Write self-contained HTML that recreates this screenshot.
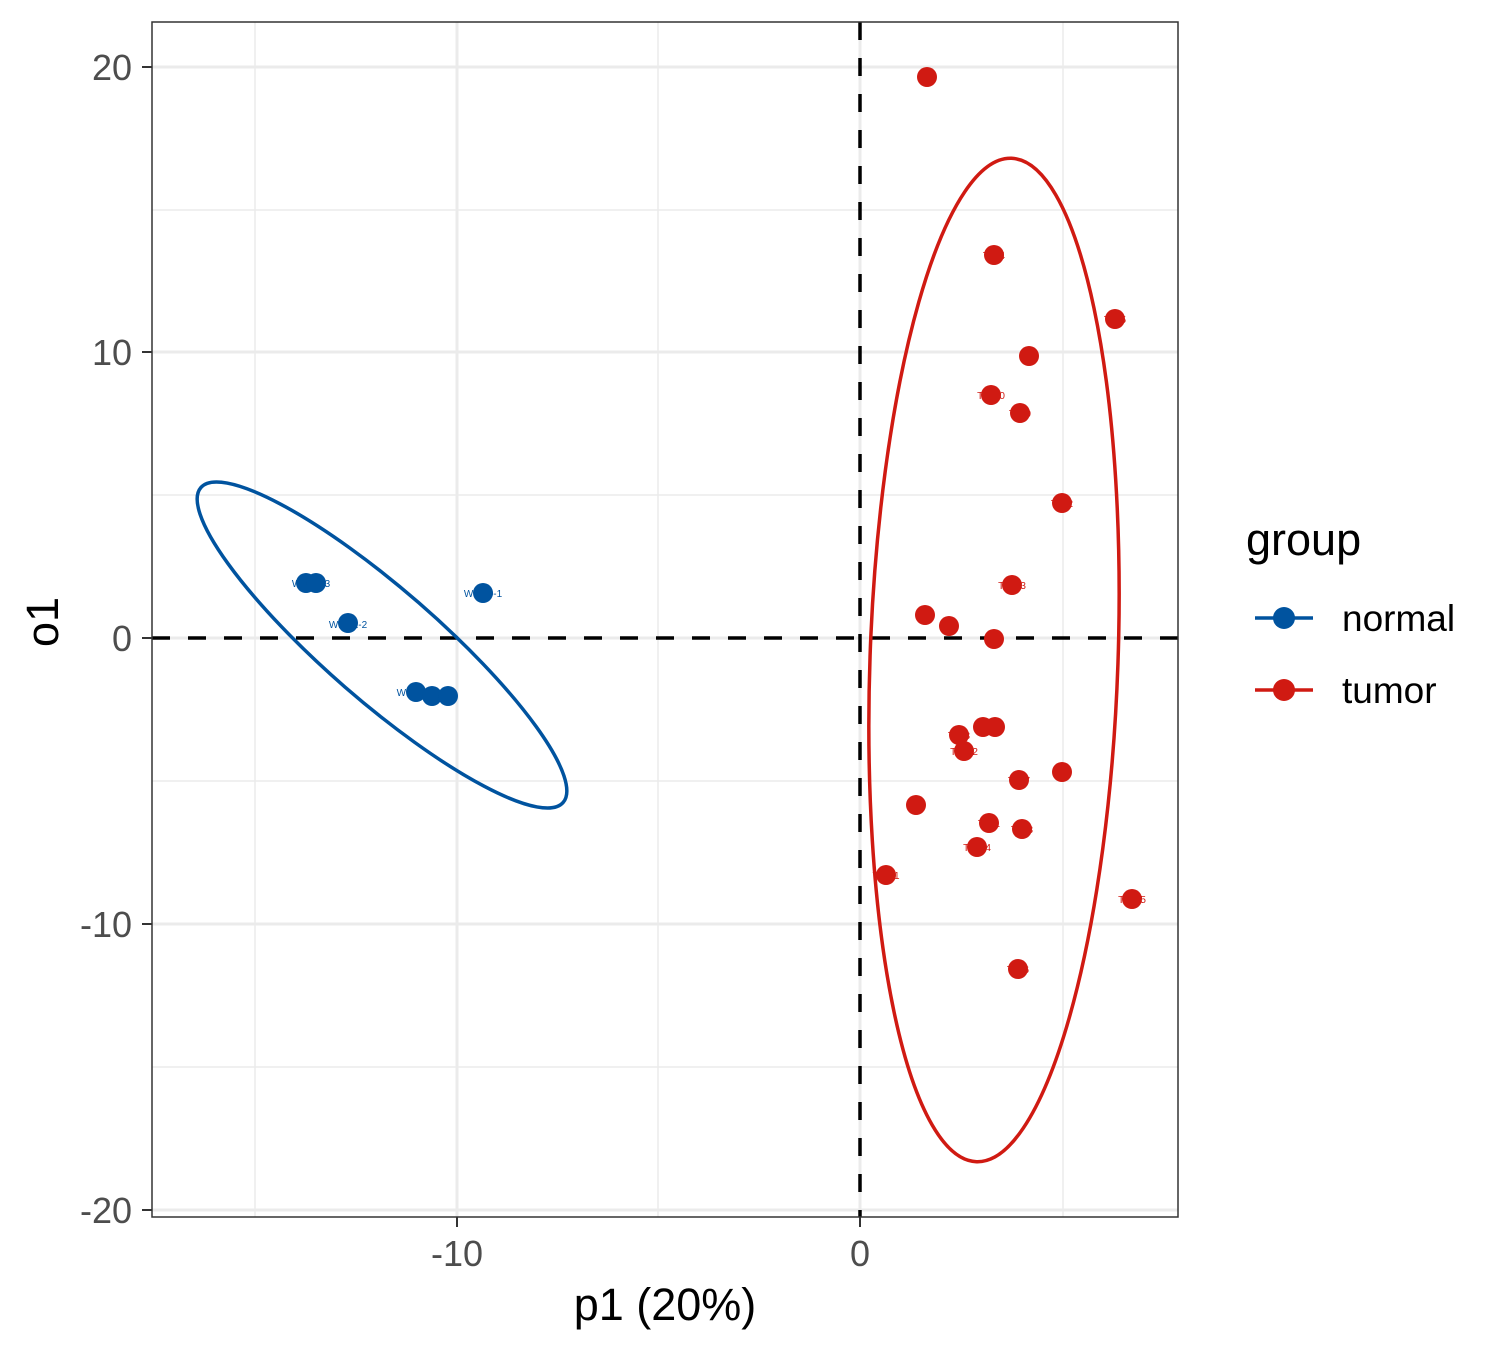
<!DOCTYPE html><html><head><style>body{margin:0;background:#fff}svg{display:block}</style></head><body>
<svg width="1500" height="1350" xmlns="http://www.w3.org/2000/svg" font-family="Liberation Sans, sans-serif">
<rect width="1500" height="1350" fill="#fff"/>
<g stroke="#ebebeb" stroke-width="1.5">
<line x1="255" y1="22" x2="255" y2="1217"/><line x1="658" y1="22" x2="658" y2="1217"/><line x1="1063" y1="22" x2="1063" y2="1217"/>
<line x1="152" y1="210" x2="1178" y2="210"/><line x1="152" y1="495" x2="1178" y2="495"/><line x1="152" y1="781" x2="1178" y2="781"/><line x1="152" y1="1067" x2="1178" y2="1067"/>
</g>
<g stroke="#ebebeb" stroke-width="3">
<line x1="457" y1="22" x2="457" y2="1217"/><line x1="860" y1="22" x2="860" y2="1217"/>
<line x1="152" y1="67" x2="1178" y2="67"/><line x1="152" y1="352" x2="1178" y2="352"/><line x1="152" y1="638" x2="1178" y2="638"/><line x1="152" y1="924" x2="1178" y2="924"/><line x1="152" y1="1210" x2="1178" y2="1210"/>
</g>
<g stroke="#000" stroke-width="3.5" stroke-dasharray="18,18">
<line x1="152" y1="638" x2="1178" y2="638"/><line x1="860" y1="22" x2="860" y2="1217"/>
</g>
<ellipse cx="382" cy="645" rx="240" ry="56" transform="rotate(41 382 645)" fill="none" stroke="#00539f" stroke-width="3.5"/>
<ellipse cx="994" cy="660" rx="124" ry="502" transform="rotate(2 994 660)" fill="none" stroke="#d01a12" stroke-width="3.5"/>
<g fill="#00539f" font-size="10" text-anchor="middle">
<text x="311" y="587">WHN0-3</text><text x="348" y="628">WHN2-2</text><text x="483" y="597">WHN0-1</text><text x="432" y="700">WHN0-4</text><text x="405" y="696">WH</text>
<circle cx="306" cy="583" r="10"/><circle cx="316" cy="583" r="10"/><circle cx="348" cy="623" r="10"/><circle cx="483" cy="593" r="10"/><circle cx="416" cy="692" r="10"/><circle cx="432" cy="696" r="10"/><circle cx="448" cy="696" r="10"/>
</g>
<g fill="#d01a12" font-size="10" text-anchor="middle">
<text x="994" y="259">TN-4</text><text x="1115" y="323">TN-5</text><text x="991" y="399">TN-10</text><text x="1020" y="417">TN-9</text><text x="1062" y="507">TN-2</text><text x="1012" y="589">TN-13</text><text x="959" y="739">TN-8</text><text x="964" y="755">TN-12</text><text x="1019" y="784">TN-7</text><text x="916" y="809">E2</text><text x="989" y="827">TN-1</text><text x="1022" y="833">TN-3</text><text x="977" y="851">TN-14</text><text x="886" y="879">TN-11</text><text x="1132" y="903">TN-15</text><text x="1018" y="973">TN-6</text>
<circle cx="927" cy="77" r="10"/><circle cx="994" cy="255" r="10"/><circle cx="1115" cy="319" r="10"/><circle cx="1029" cy="356" r="10"/><circle cx="991" cy="395" r="10"/><circle cx="1020" cy="413" r="10"/><circle cx="1062" cy="503" r="10"/><circle cx="1012" cy="585" r="10"/><circle cx="925" cy="615" r="10"/><circle cx="949" cy="626" r="10"/><circle cx="994" cy="639" r="10"/><circle cx="983" cy="727" r="10"/><circle cx="995" cy="727" r="10"/><circle cx="959" cy="735" r="10"/><circle cx="964" cy="751" r="10"/><circle cx="1019" cy="780" r="10"/><circle cx="1062" cy="772" r="10"/><circle cx="916" cy="805" r="10"/><circle cx="989" cy="823" r="10"/><circle cx="1022" cy="829" r="10"/><circle cx="977" cy="847" r="10"/><circle cx="886" cy="875" r="10"/><circle cx="1132" cy="899" r="10"/><circle cx="1018" cy="969" r="10"/>
</g>
<rect x="152" y="22" width="1026" height="1195" fill="none" stroke="#333" stroke-width="1.5"/>
<g stroke="#333" stroke-width="2">
<line x1="142" y1="67" x2="152" y2="67"/><line x1="142" y1="352" x2="152" y2="352"/><line x1="142" y1="638" x2="152" y2="638"/><line x1="142" y1="924" x2="152" y2="924"/><line x1="142" y1="1210" x2="152" y2="1210"/>
<line x1="457" y1="1217" x2="457" y2="1227"/><line x1="860" y1="1217" x2="860" y2="1227"/>
</g>
<g fill="#4d4d4d" font-size="36" text-anchor="end">
<text x="132" y="80">20</text><text x="132" y="365">10</text><text x="132" y="651">0</text><text x="132" y="937">-10</text><text x="132" y="1223">-20</text>
</g>
<g fill="#4d4d4d" font-size="36" text-anchor="middle">
<text x="457" y="1266">-10</text><text x="860" y="1266">0</text>
</g>
<text x="665" y="1320" font-size="45" text-anchor="middle">p1 (20%)</text>
<text x="58" y="622" font-size="45" text-anchor="middle" transform="rotate(-90 58 622)">o1</text>
<text x="1246" y="555" font-size="45">group</text>
<line x1="1255" y1="618" x2="1313" y2="618" stroke="#00539f" stroke-width="3.5"/><circle cx="1284" cy="618" r="11" fill="#00539f"/>
<line x1="1255" y1="690" x2="1313" y2="690" stroke="#d01a12" stroke-width="3.5"/><circle cx="1284" cy="690" r="11" fill="#d01a12"/>
<text x="1342" y="631" font-size="37">normal</text>
<text x="1342" y="703" font-size="37">tumor</text>
</svg></body></html>
